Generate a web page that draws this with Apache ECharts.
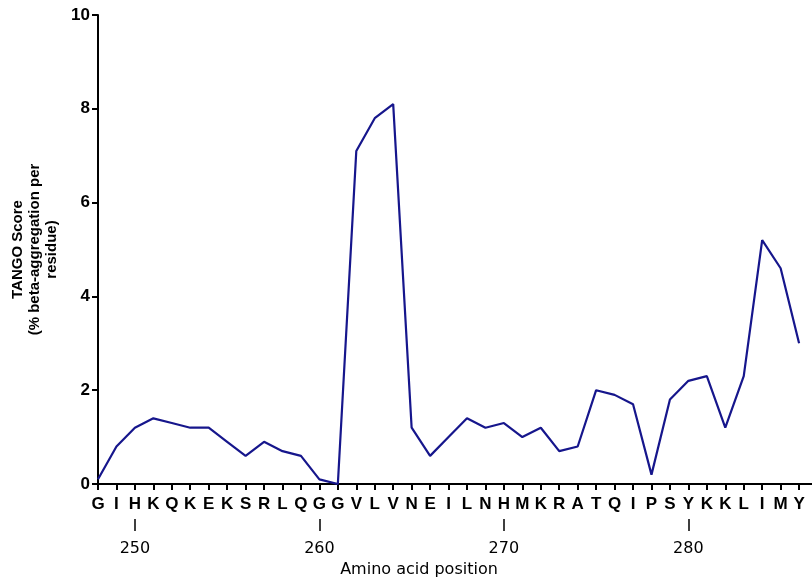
<!DOCTYPE html>
<html>
<head>
<meta charset="utf-8">
<script src="https://cdn.jsdelivr.net/npm/echarts@6/dist/echarts.min.js"></script>
<style>
  html, body { margin: 0; padding: 0; background: #fff; }
  #chart { width: 812px; height: 579px; }
</style>
</head>
<body>
<div id="chart"></div>
<script>
// residue positions and one-letter codes
const positions = [248, 249, 250, 251, 252, 253, 254, 255, 256, 257, 258, 259, 260, 261, 262, 263, 264, 265, 266, 267,
  268, 269, 270, 271, 272, 273, 274, 275, 276, 277, 278, 279, 280, 281, 282, 283, 284, 285, 286]
const residues = ['G', 'I', 'H', 'K', 'Q', 'K', 'E', 'K', 'S', 'R', 'L', 'Q', 'G', 'G', 'V', 'L', 'V', 'N', 'E', 'I',
  'L', 'N', 'H', 'M', 'K', 'R', 'A', 'T', 'Q', 'I', 'P', 'S', 'Y', 'K', 'K', 'L', 'I', 'M', 'Y']
// TANGO score per residue
const tangoScore = [0.1, 0.8, 1.2, 1.4, 1.3, 1.2, 1.2, 0.9, 0.6, 0.9, 0.7, 0.6, 0.1, 0.0, 7.1, 7.8, 8.1, 1.2, 0.6, 1.0,
  1.4, 1.2, 1.3, 1.0, 1.2, 0.7, 0.8, 2.0, 1.9, 1.7, 0.2, 1.8, 2.2, 2.3, 1.2, 2.3, 5.2, 4.6, 3.0]
const positionTicks = [250, 260, 270, 280]
const yTicks = [0, 2, 4, 6, 8, 10]

const letterOf = {}
positions.forEach((p, i) => { letterOf[p] = residues[i] })

const chart = echarts.init(document.getElementById('chart'))
const option = {
  backgroundColor: '#fff',
  animation: false,
  grid: { left: 98, right: 0, top: 15, bottom: 95, outerBoundsMode: 'none', containLabel: false },
  xAxis: [
    {
      type: 'value',
      min: 248,
      max: 286.7,
      position: 'bottom',
      splitLine: { show: false },
      axisLine: { onZero: false, lineStyle: { color: '#000', width: 2 } },
      axisTick: { show: true, customValues: positions, length: 6, lineStyle: { color: '#000', width: 2 } },
      axisLabel: {
        customValues: positions,
        formatter: v => letterOf[v] || '',
        margin: 12,
        color: '#000',
        fontFamily: 'Liberation Sans',
        fontWeight: 'bold',
        fontSize: 17
      }
    },
    {
      type: 'value',
      min: 248,
      max: 286.7,
      position: 'bottom',
      offset: 35,
      splitLine: { show: false },
      axisLine: { show: true, onZero: false, lineStyle: { color: '#000', opacity: 0 } },
      axisTick: { show: true, customValues: positionTicks, length: 12, lineStyle: { color: '#000', width: 1.5 } },
      axisLabel: {
        customValues: positionTicks,
        margin: 22,
        color: '#000',
        fontFamily: 'DejaVu Sans',
        fontSize: 16
      },
      name: 'Amino acid position',
      nameLocation: 'middle',
      nameGap: 39,
      nameTextStyle: {
        color: '#000',
        fontFamily: 'DejaVu Sans',
        fontSize: 16,
        padding: [0, 72, 0, 0]
      }
    }
  ],
  yAxis: {
    type: 'value',
    min: 0,
    max: 10,
    interval: 2,
    splitLine: { show: false },
    axisLine: { show: true, lineStyle: { color: '#000', width: 2 } },
    axisTick: { show: true, length: 6, lineStyle: { color: '#000', width: 2 } },
    axisLabel: {
      customValues: yTicks,
      margin: 8,
      color: '#000',
      fontFamily: 'Liberation Sans',
      fontWeight: 'bold',
      fontSize: 17
    },
    name: 'TANGO Score\n(% beta-aggregation per\nresidue)',
    nameLocation: 'middle',
    nameGap: 34,
    nameTextStyle: {
      color: '#000',
      fontFamily: 'Liberation Sans',
      fontWeight: 'bold',
      fontSize: 15,
      lineHeight: 17
    }
  },
  series: [
    {
      type: 'line',
      xAxisIndex: 0,
      data: positions.map((p, i) => [p, tangoScore[i]]),
      symbol: 'none',
      lineStyle: { color: '#16168c', width: 2.2 }
    }
  ]
}
chart.setOption(option)
</script>
</body>
</html>
